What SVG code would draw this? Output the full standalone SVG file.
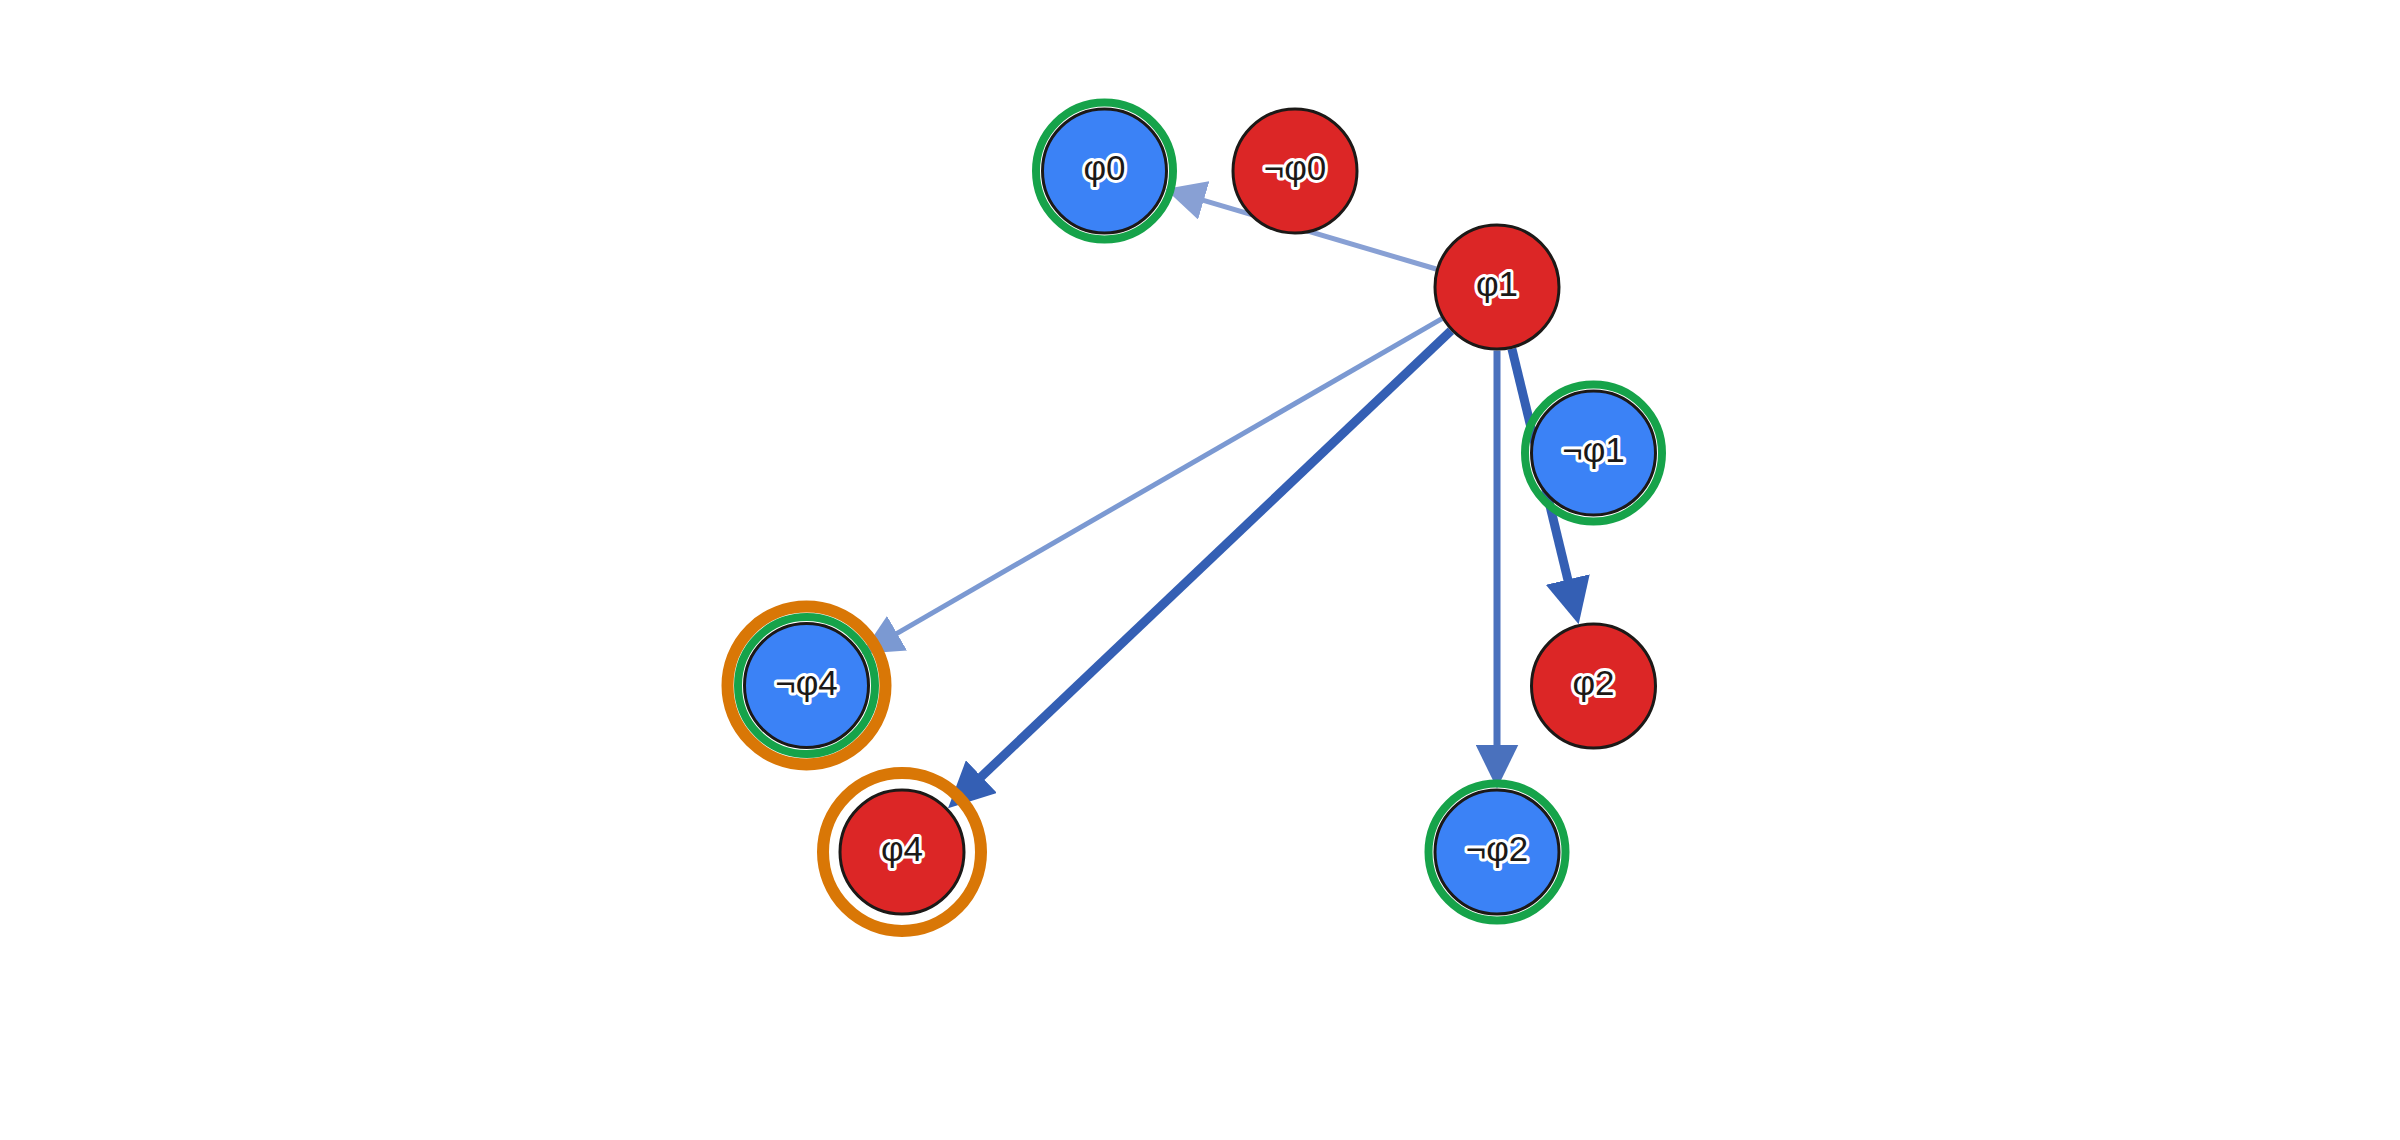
<svg xmlns="http://www.w3.org/2000/svg" width="2400" height="1140" viewBox="0 0 2400 1140">
  <style>
    .node { stroke: #1c1917; stroke-width: 3; }
    .pos { fill: #3b82f6; }
    .neg { fill: #dc2626; }
    .ring-g { fill: none; stroke: #16a34a; stroke-width: 8; }
    .ring-o { fill: none; stroke: #d97706; stroke-width: 12; }
    .lbl { font-family: "Liberation Sans", Arial, sans-serif; font-size: 35px; fill: #1c1917; text-anchor: middle; stroke: #ffffff; stroke-width: 6; stroke-linejoin: round; paint-order: stroke; }
    .edge { fill: none; stroke-linecap: butt; }
  </style>
  <defs>
    <marker id="ah-a" markerUnits="userSpaceOnUse" orient="auto" markerWidth="40" markerHeight="40" refX="2" refY="20">
      <path d="M0,0 L40,20 L0,40 z" fill="#88a0d4"/>
    </marker>
    <marker id="ah-b" markerUnits="userSpaceOnUse" orient="auto" markerWidth="41" markerHeight="40" refX="2" refY="20">
      <path d="M0,0 L41,20 L0,40 z" fill="#7b99d2"/>
    </marker>
    <marker id="ah-c" markerUnits="userSpaceOnUse" orient="auto" markerWidth="44" markerHeight="43" refX="2" refY="21.5">
      <path d="M0,0 L44,21.5 L0,43 z" fill="#4a71bd"/>
    </marker>
    <marker id="ah-d" markerUnits="userSpaceOnUse" orient="auto" markerWidth="46" markerHeight="45" refX="2" refY="22.5">
      <path d="M0,0 L46,22.5 L0,45 z" fill="#345fb4"/>
    </marker>
  </defs>
  <rect width="2400" height="1140" fill="#ffffff"/>
  <g id="connectors">
    <line id="e-phi1-phi0" class="edge" x1="1436.1" y1="269.0" x2="1201.8" y2="199.8" stroke="#88a0d4" stroke-width="5" marker-end="url(#ah-a)"/>
    <line id="e-phi1-nphi4" class="edge" x1="1442.0" y1="318.7" x2="895.3" y2="634.3" stroke="#7b99d2" stroke-width="5" marker-end="url(#ah-b)"/>
    <line id="e-phi1-phi4" class="edge" x1="1450.95" y1="330.7" x2="979.95" y2="778.0" stroke="#345fb4" stroke-width="9" marker-end="url(#ah-d)"/>
    <line id="e-phi1-phi2" class="edge" x1="1511.9" y1="348.7" x2="1568.3" y2="581.5" stroke="#345fb4" stroke-width="9" marker-end="url(#ah-d)"/>
    <line id="e-phi1-nphi2" class="edge" x1="1497" y1="350.5" x2="1497" y2="746.5" stroke="#4a71bd" stroke-width="7" marker-end="url(#ah-c)"/>
  </g>
  <g id="node-phi0">
    <circle class="ring-g" cx="1104.5" cy="171" r="68.5"/>
    <circle class="node pos" cx="1104.5" cy="171" r="62"/>
    <text class="lbl" x="1104.5" y="180">φ0</text>
  </g>
  <g id="node-nphi0">
    <circle class="node neg" cx="1295" cy="171" r="62"/>
    <text class="lbl" x="1295" y="180">¬φ0</text>
  </g>
  <g id="node-phi1">
    <circle class="node neg" cx="1497" cy="287" r="62"/>
    <text class="lbl" x="1497" y="296">φ1</text>
  </g>
  <g id="node-nphi1">
    <circle class="ring-g" cx="1593.5" cy="453" r="68.5"/>
    <circle class="node pos" cx="1593.5" cy="453" r="62"/>
    <text class="lbl" x="1593.5" y="462">¬φ1</text>
  </g>
  <g id="node-phi2">
    <circle class="node neg" cx="1593.5" cy="686" r="62"/>
    <text class="lbl" x="1593.5" y="695">φ2</text>
  </g>
  <g id="node-nphi2">
    <circle class="ring-g" cx="1497" cy="852" r="68.5"/>
    <circle class="node pos" cx="1497" cy="852" r="62"/>
    <text class="lbl" x="1497" y="861">¬φ2</text>
  </g>
  <g id="node-phi4">
    <circle class="ring-o" cx="902" cy="852" r="79"/>
    <circle class="node neg" cx="902" cy="852" r="62"/>
    <text class="lbl" x="902" y="861">φ4</text>
  </g>
  <g id="node-nphi4">
    <circle class="ring-o" cx="806.5" cy="685.5" r="79"/>
    <circle class="ring-g" cx="806.5" cy="685.5" r="68.5"/>
    <circle class="node pos" cx="806.5" cy="685.5" r="62"/>
    <text class="lbl" x="806.5" y="694.5">¬φ4</text>
  </g>
</svg>
